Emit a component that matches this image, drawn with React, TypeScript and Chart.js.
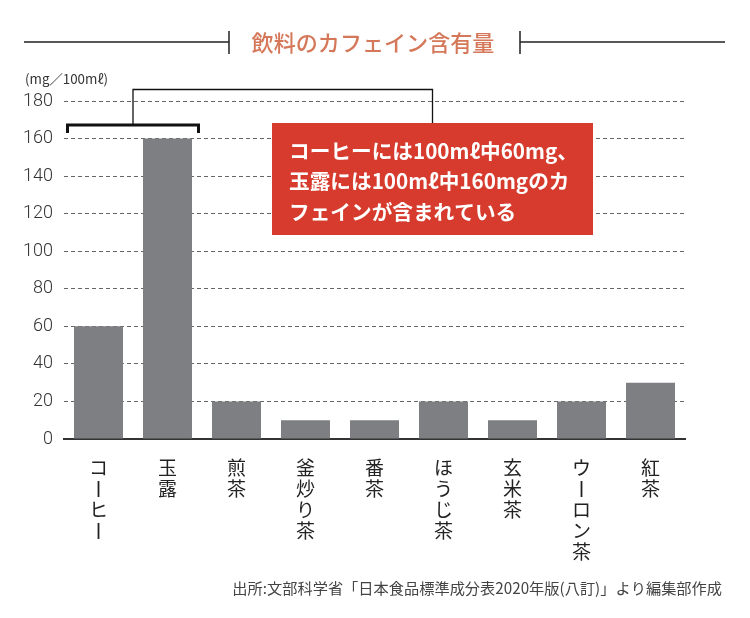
import React, { useEffect, useRef } from "react";
import { Chart, registerables } from "chart.js";

Chart.register(...registerables);

const categories = ["コーヒー", "玉露", "煎茶", "釜炒り茶", "番茶", "ほうじ茶", "玄米茶", "ウーロン茶", "紅茶"];
const caffeine = [60, 160, 20, 10, 10, 20, 10, 20, 30];
const yTicks = [0, 20, 40, 60, 80, 100, 120, 140, 160, 180];
const titleText = "飲料のカフェイン含有量";
const unitText = "(mg／100mℓ)";
const calloutLines = ["コーヒーには100mℓ中60mg、", "玉露には100mℓ中160mgのカ", "フェインが含まれている"];
const sourceText = "出所:文部科学省「日本食品標準成分表2020年版(八訂)」より編集部作成";

const CJK = '"Noto Sans CJK JP", "Noto Sans", sans-serif';

function fitFont(ctx: CanvasRenderingContext2D, text: string, weight: string, target: number, base: number) {
  ctx.font = `${weight} ${base}px ${CJK}`;
  const w = ctx.measureText(text).width;
  const size = Math.min(base * 1.3, base * (target / w));
  ctx.font = `${weight} ${size.toFixed(2)}px ${CJK}`;
  return size;
}

const overlay = {
  id: "overlay",
  afterDraw(chart: any) {
    const ctx: CanvasRenderingContext2D = chart.ctx;
    const xs = chart.scales.x;
    ctx.save();

    // Title
    ctx.fillStyle = "#d5785a";
    ctx.textAlign = "center";
    ctx.textBaseline = "middle";
    fitFont(ctx, titleText, "500", 243, 22);
    ctx.fillText(titleText, 373, 43);

    ctx.strokeStyle = "#222";
    ctx.lineWidth = 1.5;
    ctx.beginPath();
    ctx.moveTo(24, 42); ctx.lineTo(229, 42);
    ctx.moveTo(229, 31); ctx.lineTo(229, 54);
    ctx.moveTo(520, 42); ctx.lineTo(725, 42);
    ctx.moveTo(520, 31); ctx.lineTo(520, 54);
    ctx.stroke();

    // Unit
    ctx.fillStyle = "#333";
    ctx.textAlign = "left";
    fitFont(ctx, unitText, "normal", 83, 14);
    ctx.fillText(unitText, 25, 79);

    // Bracket
    const bx0 = xs.getPixelForValue(0) - 31;
    const bx1 = xs.getPixelForValue(1) + 31;
    const bmid = (bx0 + bx1) / 2;
    ctx.strokeStyle = "#111";
    ctx.lineWidth = 3;
    ctx.beginPath();
    ctx.moveTo(bx0, 133); ctx.lineTo(bx0, 125); ctx.lineTo(bx1, 125); ctx.lineTo(bx1, 133);
    ctx.stroke();

    // Connector
    const boxL = 272, boxT = 123, boxW = 321, boxH = 112;
    ctx.lineWidth = 1.3;
    ctx.beginPath();
    ctx.moveTo(bmid, 124); ctx.lineTo(bmid, 89.5); ctx.lineTo(boxL + boxW / 2, 89.5); ctx.lineTo(boxL + boxW / 2, boxT);
    ctx.stroke();

    // Callout box
    ctx.fillStyle = "#d63b2d";
    ctx.fillRect(boxL, boxT, boxW, boxH);
    ctx.fillStyle = "#ffffff";
    ctx.textAlign = "left";
    ctx.textBaseline = "middle";
    const size = fitFont(ctx, calloutLines[0], "bold", 289, 23);
    ctx.font = `bold ${size.toFixed(2)}px ${CJK}`;
    calloutLines.forEach((line, i) => {
      ctx.fillText(line, 289, 151 + i * 30.5);
    });

    // Vertical x labels
    ctx.fillStyle = "#222";
    ctx.strokeStyle = "#222";
    ctx.textAlign = "center";
    ctx.textBaseline = "middle";
    ctx.font = `normal 19px ${CJK}`;
    categories.forEach((label, i) => {
      const cx = xs.getPixelForValue(i);
      Array.from(label).forEach((ch, j) => {
        const cy = 468 + j * 21;
        if (ch === "ー") {
          ctx.lineWidth = 1.8;
          ctx.beginPath();
          ctx.moveTo(cx, cy - 8);
          ctx.lineTo(cx, cy + 8);
          ctx.stroke();
        } else {
          ctx.fillText(ch, cx, cy);
        }
      });
    });

    // Source
    ctx.fillStyle = "#444";
    ctx.textAlign = "right";
    fitFont(ctx, sourceText, "normal", 490, 15);
    ctx.fillText(sourceText, 722, 588);

    ctx.restore();
  },
};

export default function App() {
  const ref = useRef<HTMLCanvasElement | null>(null);
  useEffect(() => {
    if (!ref.current) return;
    const chart = new Chart(ref.current, {
      type: "bar",
      data: {
        labels: categories,
        datasets: [
          {
            data: caffeine,
            backgroundColor: "#7e7f82",
            borderWidth: 0,
            barPercentage: 0.71,
            categoryPercentage: 1,
          },
        ],
      },
      options: {
        animation: false,
        responsive: false,
        devicePixelRatio: 1,
        layout: { padding: { left: 0, right: 65, top: 101, bottom: 179 } },
        plugins: { legend: { display: false }, tooltip: { enabled: false } },
        scales: {
          x: {
            grid: { display: false },
            ticks: { display: false },
            border: { display: true, color: "#333", width: 2 },
            afterFit: (s: any) => { s.height = 0; },
          },
          y: {
            min: 0,
            max: 180,
            afterBuildTicks: (s: any) => { s.ticks = yTicks.map((v) => ({ value: v })); },
            afterFit: (s: any) => { s.width = 64; },
            grid: {
              drawTicks: false,
              lineWidth: 1,
              color: (c: any) => (c.tick && c.tick.value === 0 ? "rgba(0,0,0,0)" : "#666"),
            },
            border: { display: false, dash: [4, 3] },
            ticks: {
              padding: 11,
              color: "#333",
              font: { family: "Roboto, 'Noto Sans', sans-serif", size: 18, weight: "300" as any },
            },
          },
        },
      },
      plugins: [overlay],
    });
    return () => chart.destroy();
  }, []);
  return (
    <div style={{ position: "absolute", left: 0, top: 0, width: 750, height: 618, background: "#fff" }}>
      <canvas ref={ref} width={750} height={618} style={{ width: 750, height: 618, display: "block" }} />
    </div>
  );
}
